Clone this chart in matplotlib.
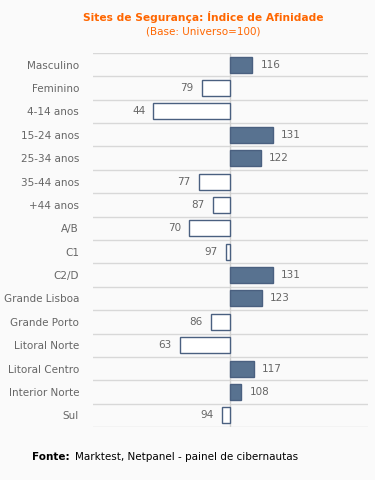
import matplotlib.pyplot as plt
import numpy as np

categories = ['Masculino', 'Feminino', '4-14 anos', '15-24 anos', '25-34 anos',
              '35-44 anos', '+44 anos', 'A/B', 'C1', 'C2/D', 'Grande Lisboa',
              'Grande Porto', 'Litoral Norte', 'Litoral Centro', 'Interior Norte', 'Sul']
values = [116, 79, 44, 131, 122, 77, 87, 70, 97, 131, 123, 86, 63, 117, 108, 94]
base = 100

bg = '#fafafa'
fill = '#587290'
edge = '#4a6080'
txt = '#666666'
fs = 7.5

fig = plt.figure(figsize=(3.75, 4.8), dpi=100, facecolor=bg)
ax = fig.add_axes([0.248, 0.1104, 0.733, 0.7792], facecolor=bg)

n = len(categories)
y = np.arange(n)
for i, v in enumerate(values):
    if v >= base:
        ax.barh(i, v - base, left=base, height=0.68, color=fill, edgecolor=edge, linewidth=1)
        ax.text(v + 6, i, str(v), va='center', ha='left', fontsize=fs, color=txt)
    else:
        ax.barh(i, v - base, left=base, height=0.68, color='white', edgecolor=edge, linewidth=1)
        ax.text(v - 6, i, str(v), va='center', ha='right', fontsize=fs, color=txt)

ax.set_xlim(0, 200)
ax.set_ylim(n - 0.5, -0.5)
for b in np.arange(-0.5, n, 1):
    ax.axhline(b, color='#d8d8d8', linewidth=1, zorder=0)
ax.axvline(base, color='#d0d0d0', linewidth=1, zorder=0)

ax.set_yticks(y)
ax.set_yticklabels(categories, fontsize=fs, color=txt)
ax.tick_params(axis='y', length=0, pad=10)
ax.set_xticks([])
for s in ax.spines.values():
    s.set_visible(False)

fig.text(0.541, 1 - 17 / 480, 'Sites de Segurança: Índice de Afinidade', ha='center', va='center',
         fontsize=7.7, fontweight='bold', color='#ff6600')
fig.text(0.541, 1 - 31 / 480, '(Base: Universo=100)', ha='center', va='center',
         fontsize=fs, color='#ff6600')
fig.text(32 / 375, 1 - 457 / 480, 'Fonte:', ha='left', va='center', fontsize=fs,
         fontweight='bold', color='black')
fig.text(75 / 375, 1 - 457 / 480, 'Marktest, Netpanel - painel de cibernautas', ha='left',
         va='center', fontsize=fs, color='black')

plt.savefig('out.png', dpi=100, facecolor=bg)
